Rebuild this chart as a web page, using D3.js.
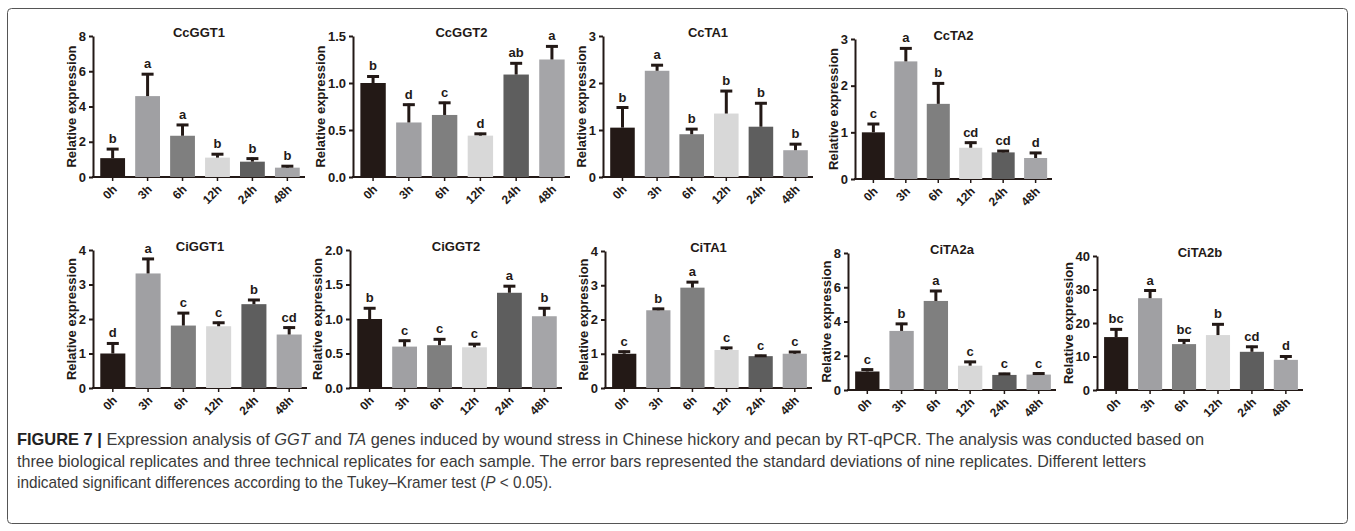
<!DOCTYPE html>
<html>
<head>
<meta charset="utf-8">
<script src="https://cdn.jsdelivr.net/npm/d3@7"></script>
<style>
  body { margin: 0; background: #fff; }
  svg { display: block; }
  text { font-family: "Liberation Sans", Arial, sans-serif; }
</style>
</head>
<body>
<svg width="1355" height="531"></svg>
<script>
// data
var times = ["0h", "3h", "6h", "12h", "24h", "48h"];
var genes = ["CcGGT1", "CcGGT2", "CcTA1", "CcTA2", "CiGGT1", "CiGGT2", "CiTA1", "CiTA2a", "CiTA2b"];
var means = [
  [1.07, 4.59, 2.34, 1.10, 0.87, 0.53],
  [1.00, 0.58, 0.66, 0.44, 1.09, 1.25],
  [1.05, 2.26, 0.91, 1.35, 1.07, 0.57],
  [1.00, 2.52, 1.61, 0.67, 0.57, 0.45],
  [1.00, 3.32, 1.81, 1.79, 2.43, 1.55],
  [1.00, 0.60, 0.62, 0.59, 1.38, 1.04],
  [1.00, 2.27, 2.93, 1.11, 0.93, 1.00],
  [1.08, 3.45, 5.20, 1.42, 0.88, 0.90],
  [15.8, 27.4, 13.7, 16.4, 11.4, 9.0]
];
var sds = [
  [0.57, 1.30, 0.67, 0.25, 0.23, 0.14],
  [0.08, 0.20, 0.14, 0.03, 0.13, 0.15],
  [0.45, 0.14, 0.13, 0.50, 0.52, 0.15],
  [0.20, 0.30, 0.46, 0.13, 0.05, 0.13],
  [0.32, 0.45, 0.39, 0.13, 0.15, 0.23],
  [0.17, 0.10, 0.10, 0.06, 0.11, 0.13],
  [0.09, 0.07, 0.19, 0.09, 0.04, 0.08],
  [0.17, 0.47, 0.64, 0.28, 0.12, 0.12],
  [2.6, 2.6, 1.4, 3.5, 1.8, 1.3]
];
var letters = [
  ["b", "a", "a", "b", "b", "b"],
  ["b", "d", "c", "d", "ab", "a"],
  ["b", "a", "b", "b", "b", "b"],
  ["c", "a", "b", "cd", "cd", "d"],
  ["d", "a", "c", "c", "b", "cd"],
  ["b", "c", "c", "c", "a", "b"],
  ["c", "b", "a", "c", "c", "c"],
  ["c", "b", "a", "c", "c", "c"],
  ["bc", "a", "bc", "b", "cd", "d"]
];
var yMax = [8, 1.5, 3, 3, 4, 2, 4, 8, 40];
var yStep = [2, 0.5, 1, 1, 1, 0.5, 1, 2, 10];
var yLabel = "Relative expression";

var captionLines = [
  [["FIGURE 7 | ", "b"], ["Expression analysis of ", ""], ["GGT", "i"], [" and ", ""], ["TA", "i"],
   [" genes induced by wound stress in Chinese hickory and pecan by RT-qPCR. The analysis was conducted based on", ""]],
  [["three biological replicates and three technical replicates for each sample. The error bars represented the standard deviations of nine replicates. Different letters", ""]],
  [["indicated significant differences according to the Tukey\u2013Kramer test (", ""], ["P", "i"], [" < 0.05).", ""]]
];

// layout
var barColors = ["#231916", "#a0a0a3", "#7f7f7f", "#d8d8d8", "#5e5e5e", "#a5a5a8"];
var boxes = [
  {l: 93, r: 305, t: 36, b: 177},
  {l: 353, r: 570, t: 36, b: 177},
  {l: 603, r: 813, t: 36, b: 177},
  {l: 855, r: 1052, t: 39, b: 179},
  {l: 93, r: 307, t: 250, b: 388},
  {l: 350, r: 562, t: 250, b: 388},
  {l: 605, r: 812, t: 251, b: 388},
  {l: 848, r: 1056, t: 253, b: 390},
  {l: 1097, r: 1303, t: 256, b: 390}
];
var capEnds = [1205, 1147, 553];

var svg = d3.select("svg");

svg.append("rect")
  .attr("x", 7.5).attr("y", 8.5)
  .attr("width", 1340).attr("height", 515)
  .attr("rx", 4)
  .attr("fill", "none").attr("stroke", "#555").attr("stroke-width", 1);

var ink = "#231916";

genes.forEach(function(g, k) {
  var bx = boxes[k];
  var x = d3.scaleBand().domain(times).range([bx.l + 2, bx.r]).paddingInner(0.29).paddingOuter(0.15);
  var y = d3.scaleLinear().domain([0, yMax[k]]).range([bx.b, bx.t]);
  var ticks = d3.range(0, yMax[k] + yStep[k] / 2, yStep[k]);
  var fmt = yStep[k] < 1 ? d3.format(".1f") : d3.format("d");

  var p = svg.append("g");

  // y axis
  var ya = p.append("g")
    .attr("transform", "translate(" + bx.l + ",0)")
    .call(d3.axisLeft(y).tickValues(ticks).tickFormat(fmt).tickSize(4).tickPadding(3).tickSizeOuter(0));
  ya.select(".domain").attr("stroke", ink).attr("stroke-width", 2);
  ya.selectAll(".tick line").attr("stroke", ink).attr("stroke-width", 2);
  ya.selectAll(".tick text")
    .attr("fill", ink)
    .style("font-size", "13px").style("font-weight", "bold");

  // x axis
  var xa = p.append("g")
    .attr("transform", "translate(0," + bx.b + ")")
    .call(d3.axisBottom(x).tickSize(4).tickSizeOuter(0));
  xa.select(".domain").attr("d", "M" + (bx.l - 1) + ",0H" + bx.r).attr("stroke", ink).attr("stroke-width", 2);
  xa.selectAll(".tick line").attr("stroke", ink).attr("stroke-width", 1.5);
  xa.selectAll(".tick text")
    .attr("fill", ink)
    .style("font-size", "12px").style("font-weight", "bold")
    .attr("text-anchor", "end")
    .attr("dy", null).attr("y", 0)
    .attr("transform", "translate(5,13) rotate(-45)");

  // bars
  p.selectAll("rect.bar").data(times).enter().append("rect")
    .attr("class", "bar")
    .attr("x", function(d) { return x(d); })
    .attr("width", x.bandwidth())
    .attr("y", function(d, i) { return y(means[k][i]); })
    .attr("height", function(d, i) { return bx.b - y(means[k][i]); })
    .attr("fill", function(d, i) { return barColors[i]; });

  // error bars (upper only)
  var eb = p.selectAll("g.err").data(times).enter().append("g").attr("class", "err");
  eb.append("line")
    .attr("x1", function(d) { return x(d) + x.bandwidth() / 2; })
    .attr("x2", function(d) { return x(d) + x.bandwidth() / 2; })
    .attr("y1", function(d, i) { return y(means[k][i]); })
    .attr("y2", function(d, i) { return y(means[k][i] + sds[k][i]); })
    .attr("stroke", ink).attr("stroke-width", 3);
  eb.append("line")
    .attr("x1", function(d) { return x(d) + x.bandwidth() / 2 - 6; })
    .attr("x2", function(d) { return x(d) + x.bandwidth() / 2 + 6; })
    .attr("y1", function(d, i) { return y(means[k][i] + sds[k][i]) + 1; })
    .attr("y2", function(d, i) { return y(means[k][i] + sds[k][i]) + 1; })
    .attr("stroke", ink).attr("stroke-width", 3);

  // significance letters
  p.selectAll("text.sig").data(times).enter().append("text")
    .attr("class", "sig")
    .attr("x", function(d) { return x(d) + x.bandwidth() / 2; })
    .attr("y", function(d, i) { return y(means[k][i] + sds[k][i]) - 5; })
    .attr("text-anchor", "middle")
    .attr("fill", ink)
    .style("font-size", "13px").style("font-weight", "bold")
    .text(function(d, i) { return letters[k][i]; });

  // title
  p.append("text")
    .attr("x", (bx.l + bx.r) / 2)
    .attr("y", bx.t + 1)
    .attr("text-anchor", "middle")
    .attr("fill", ink)
    .style("font-size", "13px").style("font-weight", "bold")
    .text(g);

  // y label
  var bb = ya.node().getBBox();
  p.append("text")
    .attr("transform", "translate(" + (bx.l + bb.x - 3) + "," + ((bx.t + bx.b) / 2) + ") rotate(-90)")
    .attr("text-anchor", "middle")
    .attr("fill", ink)
    .style("font-size", "13px").style("font-weight", "bold")
    .text(yLabel);
});

// caption: each line narrowed horizontally to end where it ends in the figure
captionLines.forEach(function(line, j) {
  var t = svg.append("text")
    .attr("x", 0).attr("y", 0)
    .attr("fill", "#3a3a3a")
    .style("font-size", "16px");
  line.forEach(function(seg) {
    t.append("tspan")
      .style("font-weight", seg[1] == "b" ? "bold" : "normal")
      .style("font-style", seg[1] == "i" ? "italic" : "normal")
      .attr("fill", seg[1] == "b" ? "#222" : null)
      .text(seg[0]);
  });
  var sx = (capEnds[j] - 17) / t.node().getComputedTextLength();
  t.attr("transform", "translate(17," + (445 + j * 21.5) + ") scale(" + sx + ",1)");
});
</script>
</body>
</html>
